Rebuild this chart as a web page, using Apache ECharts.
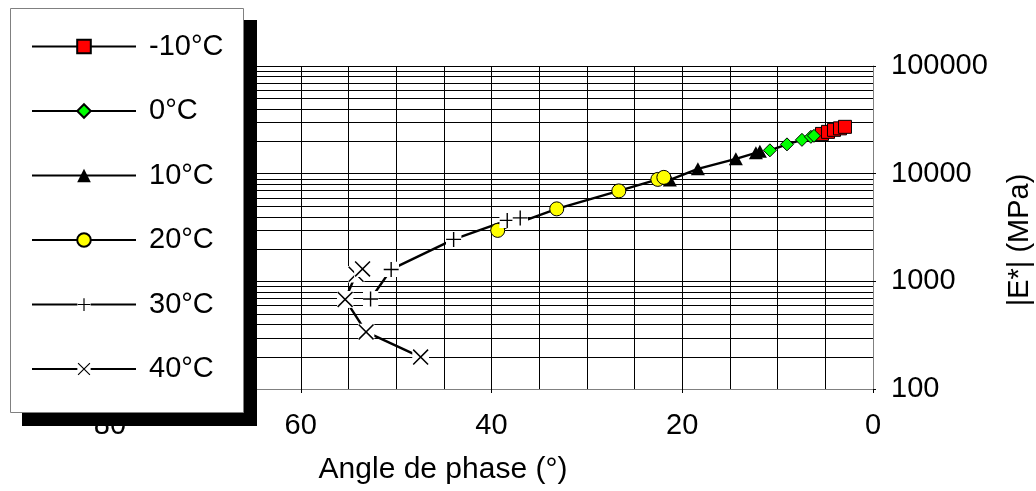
<!DOCTYPE html>
<html>
<head>
<meta charset="utf-8">
<script src="https://cdn.jsdelivr.net/npm/echarts@6/dist/echarts.min.js"></script>
<style>
  html, body { margin: 0; padding: 0; background: #fff; }
  #chart { width: 1036px; height: 491px; }
</style>
</head>
<body>
<div id="chart"></div>
<script>
// Test temperatures (legend entries)
const temperatures = ['-10°C', '0°C', '10°C', '20°C', '30°C', '40°C'];

// Phase angle (°) and complex modulus |E*| (MPa), one pair of arrays per temperature
const angleM10 = [5.35, 4.72, 4.09, 3.46, 2.94];
const modulusM10 = [23400, 24450, 25530, 26360, 27220];

const angle0 = [10.81, 9.02, 7.45, 6.51, 6.19];
const modulus0 = [16470, 18710, 20610, 21980, 22450];

const angle10 = [21.30, 18.36, 14.38, 12.28, 11.86];
const modulus10 = [8750, 11080, 13730, 15600, 16110];

const angle20 = [39.35, 33.16, 26.65, 22.56, 21.93];
const modulus20 = [2972, 4710, 6920, 8850, 9240];

const angle30 = [52.68, 50.52, 43.97, 38.35, 36.99];
const modulus30 = [686, 1290, 2451, 3681, 3883];

const angle40 = [47.43, 53.15, 55.35, 54.20, 53.52];
const modulus40 = [198, 339, 679, 1164, 1304];

// Axis ranges and tick labels
const xTickLabels = [0, 20, 40, 60, 80];
const yTickLabels = [100, 1000, 10000, 100000];

// Intermediate log gridlines (2..9 within each decade)
const minorGridValues = [];
for (let d = 0; d < yTickLabels.length - 1; d++) {
  for (let k = 2; k <= 9; k++) minorGridValues.push(yTickLabels[d] * k);
}

const FONT = '"Liberation Sans", Arial, sans-serif';

const pairs = (xs, ys) => xs.map((x, i) => [x, ys[i]]);

// Thin cross-type markers on a white square backing
const svgSymbol = (path) => 'image://data:image/svg+xml;charset=utf-8,' + encodeURIComponent(
  '<svg xmlns="http://www.w3.org/2000/svg" width="32" height="32" viewBox="0 0 32 32">' +
  '<rect width="32" height="32" fill="#fff"/>' +
  '<path d="' + path + '" stroke="#000" stroke-width="2.8" fill="none"/></svg>');
const plusSymbol = svgSymbol('M16 1V31M1 16H31');
const crossSymbol = svgSymbol('M2 2L30 30M30 2L2 30');

const lineStyle = { color: '#000', width: 2.4 };

const chart = echarts.init(document.getElementById('chart'), null, { renderer: 'canvas' });

chart.setOption({
  animation: false,
  backgroundColor: '#fff',
  textStyle: { fontFamily: FONT },
  grid: { left: 110, right: 163, top: 66, bottom: 102, outerBoundsMode: 'none' },
  xAxis: {
    type: 'value',
    inverse: true,
    min: xTickLabels[0],
    max: xTickLabels[xTickLabels.length - 1],
    interval: 20,
    axisLine: { show: true, onZero: false, lineStyle: { color: '#808080', width: 1 } },
    axisTick: { show: true, length: 4, lineStyle: { color: '#000' } },
    axisLabel: { margin: 22, fontSize: 29, color: '#000', fontFamily: FONT, formatter: v => String(v) },
    splitLine: { show: true, lineStyle: { color: '#000', width: 1 } },
    minorTick: { show: false, splitNumber: 4 },
    minorSplitLine: { show: true, lineStyle: { color: '#000', width: 1 } },
    name: 'Angle de phase (°)',
    nameLocation: 'middle',
    nameGap: 66,
    nameTextStyle: { fontSize: 30, color: '#000', fontFamily: FONT, padding: [0, 97, 0, 0] }
  },
  yAxis: {
    type: 'log',
    logBase: 10,
    position: 'right',
    min: yTickLabels[0],
    max: yTickLabels[yTickLabels.length - 1],
    axisLine: { show: true, lineStyle: { color: '#808080', width: 1 } },
    axisTick: { show: true, length: 3, lineStyle: { color: '#000' } },
    axisLabel: { margin: 18, fontSize: 29, color: '#000', fontFamily: FONT, formatter: v => String(Math.round(v)) },
    splitLine: { show: true, lineStyle: { color: '#000', width: 1 } },
    name: '|E*| (MPa)',
    nameLocation: 'middle',
    nameRotate: 90,
    nameGap: 132,
    nameTextStyle: { fontSize: 29, color: '#000', fontFamily: FONT, padding: [0, 25, 0, 0] }
  },
  legend: {
    orient: 'vertical',
    left: 31,
    top: 29.5,
    padding: 0,
    itemWidth: 104,
    itemHeight: 17,
    itemGap: 30.5,
    selectedMode: false,
    data: temperatures,
    textStyle: { fontSize: 29, color: '#000', fontFamily: FONT, lineHeight: 30, padding: [4, 0, 0, 8] },
    z: 5
  },
  graphic: [
    { type: 'rect', z: 3, silent: true, shape: { x: 22, y: 20, width: 235, height: 406 }, style: { fill: '#000' } },
    { type: 'rect', z: 3, silent: true, shape: { x: 10.5, y: 8.5, width: 233, height: 404 }, style: { fill: '#fff', stroke: '#808080', lineWidth: 1 } }
  ],
  series: [
    {
      type: 'custom',
      silent: true,
      z: 1,
      data: minorGridValues.map(v => [0, v]),
      encode: { x: 0, y: 1 },
      renderItem: (params, api) => {
        const cs = params.coordSys;
        const y = Math.round(api.coord([0, api.value(1)])[1]) + 0.5;
        return { type: 'line', shape: { x1: cs.x, y1: y, x2: cs.x + cs.width, y2: y }, style: { stroke: '#000', lineWidth: 1 } };
      }
    },
    {
      name: temperatures[0], type: 'line', data: pairs(angleM10, modulusM10),
      symbol: 'rect', symbolSize: 13, lineStyle,
      itemStyle: { color: '#ff0000', borderColor: '#000', borderWidth: 1 }
    },
    {
      name: temperatures[1], type: 'line', data: pairs(angle0, modulus0),
      symbol: 'diamond', symbolSize: 13, lineStyle,
      itemStyle: { color: '#00ff00', borderColor: '#000', borderWidth: 1 }
    },
    {
      name: temperatures[2], type: 'line', data: pairs(angle10, modulus10),
      symbol: 'triangle', symbolSize: [14, 13], lineStyle,
      itemStyle: { color: '#000', borderColor: '#000', borderWidth: 0 }
    },
    {
      name: temperatures[3], type: 'line', data: pairs(angle20, modulus20),
      symbol: 'circle', symbolSize: 14, lineStyle,
      itemStyle: { color: '#ffff00', borderColor: '#000', borderWidth: 1 }
    },
    {
      name: temperatures[4], type: 'line', data: pairs(angle30, modulus30),
      symbol: plusSymbol, symbolSize: 16, lineStyle,
      itemStyle: { color: '#000' }
    },
    {
      name: temperatures[5], type: 'line', data: pairs(angle40, modulus40),
      symbol: crossSymbol, symbolSize: 17, lineStyle,
      itemStyle: { color: '#000' }
    }
  ]
});
</script>
</body>
</html>
